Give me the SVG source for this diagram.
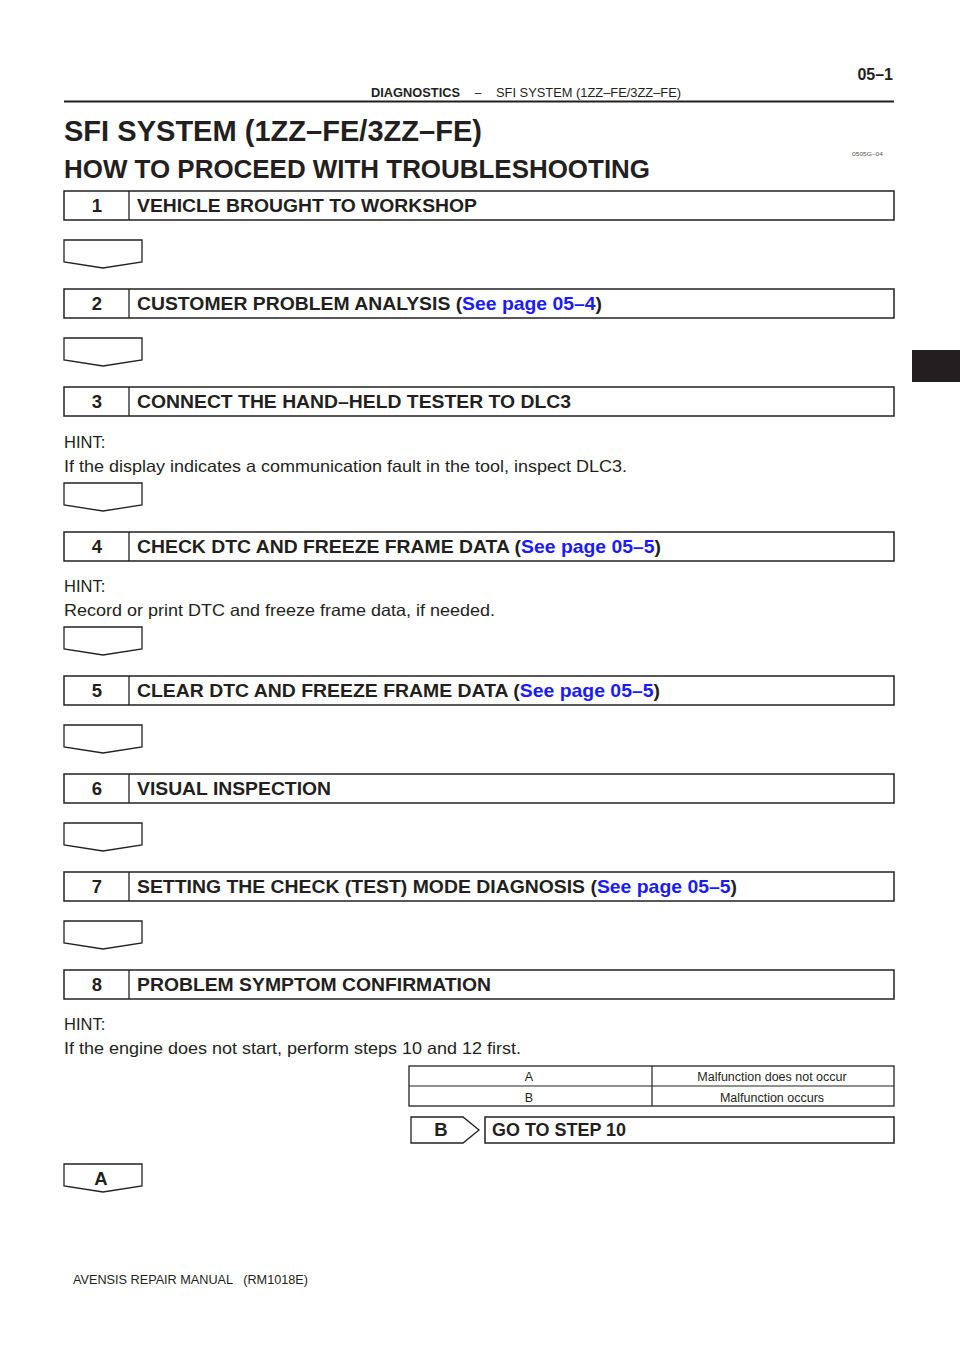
<svg xmlns="http://www.w3.org/2000/svg" width="960" height="1358" viewBox="0 0 960 1358">
<style>
.box{fill:#fff;stroke:#222;stroke-width:1.5}
.arr{fill:#fff;stroke:#222;stroke-width:1.3}
.step{font-family:"Liberation Sans",Arial,sans-serif;font-weight:bold;font-size:18.5px;fill:#231f20}
.num{font-family:"Liberation Sans",Arial,sans-serif;font-weight:bold;font-size:18.5px;fill:#231f20;text-anchor:middle}
.hint{font-family:"Liberation Sans",Arial,sans-serif;font-size:16.5px;fill:#231f20}
.tbl{font-family:"Liberation Sans",Arial,sans-serif;font-size:12.5px;fill:#231f20;text-anchor:middle}
.link{fill:#1a1aff}
</style>
<rect width="960" height="1358" fill="#fff"/>
<g id="header">
<text x="893" y="80" text-anchor="end" font-family="Liberation Sans,Arial,sans-serif" font-weight="bold" font-size="16" fill="#231f20">05–1</text>
<text x="371" y="97" font-family="Liberation Sans,Arial,sans-serif" font-weight="bold" font-size="12" fill="#231f20" textLength="89" lengthAdjust="spacingAndGlyphs">DIAGNOSTICS</text>
<text x="478" y="97" text-anchor="middle" font-family="Liberation Sans,Arial,sans-serif" font-size="12" fill="#231f20">–</text>
<text x="496" y="97" font-family="Liberation Sans,Arial,sans-serif" font-size="12" fill="#231f20" textLength="185" lengthAdjust="spacingAndGlyphs">SFI SYSTEM (1ZZ–FE/3ZZ–FE)</text>
<line x1="64" y1="101.5" x2="894" y2="101.5" stroke="#231f20" stroke-width="2"/>
<text x="64" y="141" font-family="Liberation Sans,Arial,sans-serif" font-weight="bold" font-size="30" fill="#231f20" textLength="418" lengthAdjust="spacingAndGlyphs">SFI SYSTEM (1ZZ–FE/3ZZ–FE)</text>
<text x="64" y="178" font-family="Liberation Sans,Arial,sans-serif" font-weight="bold" font-size="26" fill="#231f20" textLength="586" lengthAdjust="spacingAndGlyphs">HOW TO PROCEED WITH TROUBLESHOOTING</text>
<text x="852" y="156" font-family="Liberation Sans,Arial,sans-serif" font-size="6" fill="#555" textLength="31" lengthAdjust="spacingAndGlyphs">0505G–04</text>
<rect x="912" y="350" width="48" height="32" fill="#231f20"/>
</g>
<g id="step1">
<rect class="box" x="64" y="191" width="830" height="29"/>
<line x1="129" y1="191" x2="129" y2="220" stroke="#222" stroke-width="1.3"/>
<text class="num" x="97" y="212">1</text>
<text class="step" x="137" y="212" textLength="340" lengthAdjust="spacingAndGlyphs">VEHICLE BROUGHT TO WORKSHOP</text>
</g>
<g id="step2">
<rect class="box" x="64" y="289" width="830" height="29"/>
<line x1="129" y1="289" x2="129" y2="318" stroke="#222" stroke-width="1.3"/>
<text class="num" x="97" y="310">2</text>
<text class="step" x="137" y="310" textLength="465" lengthAdjust="spacingAndGlyphs">CUSTOMER PROBLEM ANALYSIS (<tspan class="link">See page 05–4</tspan>)</text>
</g>
<g id="step3">
<rect class="box" x="64" y="387" width="830" height="29"/>
<line x1="129" y1="387" x2="129" y2="416" stroke="#222" stroke-width="1.3"/>
<text class="num" x="97" y="408">3</text>
<text class="step" x="137" y="408" textLength="434" lengthAdjust="spacingAndGlyphs">CONNECT THE HAND–HELD TESTER TO DLC3</text>
<text class="hint" x="64" y="448">HINT:</text>
<text class="hint" x="64" y="472" textLength="563" lengthAdjust="spacingAndGlyphs">If the display indicates a communication fault in the tool, inspect DLC3.</text>
</g>
<g id="step4">
<rect class="box" x="64" y="532" width="830" height="29"/>
<line x1="129" y1="532" x2="129" y2="561" stroke="#222" stroke-width="1.3"/>
<text class="num" x="97" y="553">4</text>
<text class="step" x="137" y="553" textLength="524" lengthAdjust="spacingAndGlyphs">CHECK DTC AND FREEZE FRAME DATA (<tspan class="link">See page 05–5</tspan>)</text>
<text class="hint" x="64" y="592">HINT:</text>
<text class="hint" x="64" y="616" textLength="431" lengthAdjust="spacingAndGlyphs">Record or print DTC and freeze frame data, if needed.</text>
</g>
<g id="step5">
<rect class="box" x="64" y="676" width="830" height="29"/>
<line x1="129" y1="676" x2="129" y2="705" stroke="#222" stroke-width="1.3"/>
<text class="num" x="97" y="697">5</text>
<text class="step" x="137" y="697" textLength="523" lengthAdjust="spacingAndGlyphs">CLEAR DTC AND FREEZE FRAME DATA (<tspan class="link">See page 05–5</tspan>)</text>
</g>
<g id="step6">
<rect class="box" x="64" y="774" width="830" height="29"/>
<line x1="129" y1="774" x2="129" y2="803" stroke="#222" stroke-width="1.3"/>
<text class="num" x="97" y="795">6</text>
<text class="step" x="137" y="795" textLength="194" lengthAdjust="spacingAndGlyphs">VISUAL INSPECTION</text>
</g>
<g id="step7">
<rect class="box" x="64" y="872" width="830" height="29"/>
<line x1="129" y1="872" x2="129" y2="901" stroke="#222" stroke-width="1.3"/>
<text class="num" x="97" y="893">7</text>
<text class="step" x="137" y="893" textLength="600" lengthAdjust="spacingAndGlyphs">SETTING THE CHECK (TEST) MODE DIAGNOSIS (<tspan class="link">See page 05–5</tspan>)</text>
</g>
<g id="step8">
<rect class="box" x="64" y="970" width="830" height="29"/>
<line x1="129" y1="970" x2="129" y2="999" stroke="#222" stroke-width="1.3"/>
<text class="num" x="97" y="991">8</text>
<text class="step" x="137" y="991" textLength="354" lengthAdjust="spacingAndGlyphs">PROBLEM SYMPTOM CONFIRMATION</text>
<text class="hint" x="64" y="1030">HINT:</text>
<text class="hint" x="64" y="1054" textLength="457" lengthAdjust="spacingAndGlyphs">If the engine does not start, perform steps 10 and 12 first.</text>
</g>
<g id="result-table">
<rect x="409" y="1066" width="485" height="40" fill="#fff" stroke="#222" stroke-width="1.3"/>
<line x1="409" y1="1086" x2="894" y2="1086" stroke="#222" stroke-width="1.2"/>
<line x1="652" y1="1066" x2="652" y2="1106" stroke="#222" stroke-width="1.2"/>
<text class="tbl" x="529" y="1081">A</text>
<text class="tbl" x="772" y="1081">Malfunction does not occur</text>
<text class="tbl" x="529" y="1102">B</text>
<text class="tbl" x="772" y="1102">Malfunction occurs</text>
</g>
<g id="goto10">
<rect class="box" x="485" y="1117" width="409" height="26"/>
<text class="step" x="492" y="1136" textLength="134" lengthAdjust="spacingAndGlyphs">GO TO STEP 10</text>
</g>
<g id="connectors">
<polygon class="arr" points="64,240 142,240 142,262 103,268 64,262"/>
<polygon class="arr" points="64,338 142,338 142,360 103,366 64,360"/>
<polygon class="arr" points="64,483 142,483 142,505 103,511 64,505"/>
<polygon class="arr" points="64,627 142,627 142,649 103,655 64,649"/>
<polygon class="arr" points="64,725 142,725 142,747 103,753 64,747"/>
<polygon class="arr" points="64,823 142,823 142,845 103,851 64,845"/>
<polygon class="arr" points="64,921 142,921 142,943 103,949 64,943"/>
<polygon class="arr" points="411,1117 463,1117 479,1130 463,1143 411,1143"/>
<text class="num" x="441" y="1136">B</text>
<polygon class="arr" points="64,1164 142,1164 142,1186 103,1192 64,1186"/>
<text class="num" x="101" y="1185" font-size="17">A</text>
</g>
<g id="footer">
<text x="73" y="1284" font-family="Liberation Sans,Arial,sans-serif" font-size="13" fill="#231f20" textLength="235" lengthAdjust="spacingAndGlyphs" xml:space="preserve">AVENSIS REPAIR MANUAL   (RM1018E)</text>
</g>
</svg>
